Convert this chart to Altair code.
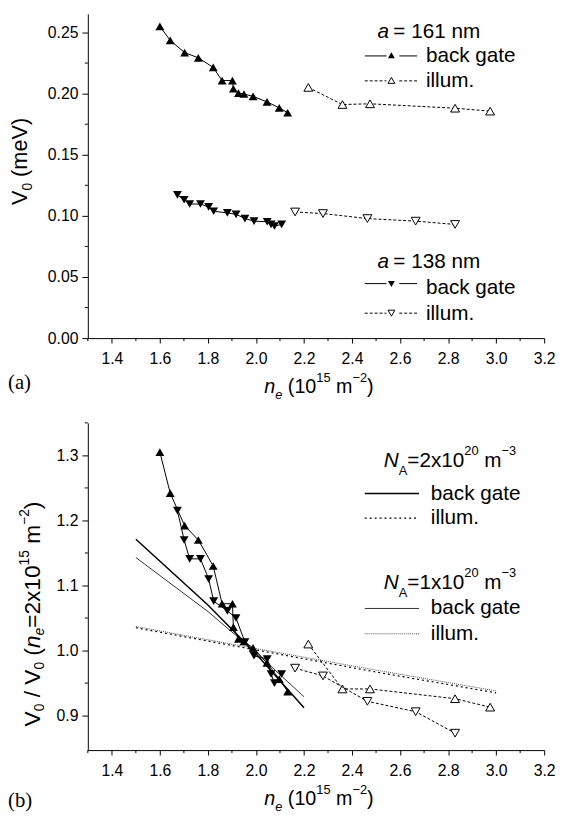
import altair as alt
import pandas as pd

# ---------------- data: panel (a) ----------------
a161_bg_ne = [1.60, 1.643, 1.703, 1.760, 1.822, 1.859, 1.902, 1.906, 1.927, 1.950, 1.988, 2.046, 2.097, 2.132]
a161_bg_v0 = [0.2551, 0.2436, 0.2336, 0.2293, 0.2215, 0.2107, 0.2107, 0.2040, 0.2005, 0.1997, 0.1978, 0.1933, 0.1884, 0.1844]
a161_il_ne = [2.218, 2.360, 2.475, 2.829, 2.975]
a161_il_v0 = [0.2051, 0.1911, 0.1917, 0.1881, 0.1857]
a138_bg_ne = [1.673, 1.701, 1.724, 1.769, 1.803, 1.824, 1.881, 1.917, 1.954, 1.992, 2.047, 2.063, 2.077, 2.107]
a138_bg_v0 = [0.1172, 0.1132, 0.1097, 0.1097, 0.1073, 0.1038, 0.1024, 0.1013, 0.0978, 0.0957, 0.0952, 0.0930, 0.0917, 0.0930]
a138_il_ne = [2.163, 2.279, 2.464, 2.665, 2.829]
a138_il_v0 = [0.1032, 0.1019, 0.0978, 0.0957, 0.0930]

# ---------------- data: panel (b) ----------------
b161_bg_r = [1.305, 1.242, 1.192, 1.170, 1.130, 1.072, 1.072, 1.036, 1.018, 1.014, 1.004, 0.981, 0.956, 0.937]
b161_il_r = [1.010, 0.941, 0.941, 0.926, 0.913]
b138_bg_r = [1.215, 1.170, 1.141, 1.141, 1.110, 1.076, 1.061, 1.050, 1.013, 0.992, 0.987, 0.964, 0.950, 0.964]
b138_il_r = [0.973, 0.961, 0.922, 0.906, 0.873]

# model curves
na2_bg_ne = [1.5, 1.8, 2.0, 2.2]
na2_bg_r = [1.171, 1.070, 0.995, 0.912]
na1_bg_ne = [1.5, 1.8, 2.0, 2.2]
na1_bg_r = [1.143, 1.060, 0.997, 0.929]
na2_il_ne = [1.5, 2.0, 2.5, 3.0]
na2_il_r = [1.035, 1.001, 0.967, 0.935]
na1_il_ne = [1.5, 2.0, 2.5, 3.0]
na1_il_r = [1.037, 1.003, 0.970, 0.938]

# axes
X_DOMAIN = [1.3, 3.2]
X_MAJOR = [1.4, 1.6, 1.8, 2.0, 2.2, 2.4, 2.6, 2.8, 3.0, 3.2]
X_MINOR = [1.3, 1.5, 1.7, 1.9, 2.1, 2.3, 2.5, 2.7, 2.9, 3.1]
TOP_Y_DOMAIN = [0.0, 0.2653]
TOP_Y_MAJOR = [0.0, 0.05, 0.10, 0.15, 0.20, 0.25]
TOP_Y_MINOR = [0.025, 0.075, 0.125, 0.175, 0.225]
BOT_Y_DOMAIN = [0.847, 1.35]
BOT_Y_MAJOR = [0.9, 1.0, 1.1, 1.2, 1.3]
BOT_Y_MINOR = [0.95, 1.05, 1.15, 1.25, 1.35]

FONT = "Liberation Sans"
SERIF = "Liberation Serif"
W = 463
H_TOP = 329
H_BOT = 332
ONE = pd.DataFrame({"k": [0]})

CW = {' ': 278, '(': 333, ')': 333, '.': 278, '/': 278, '=': 584, 'x': 500, 'm': 833,
      'n': 556, 'e': 556, 'V': 667, 'N': 722, 'A': 667, 'a': 556, '\u2212': 584}


def tw(s, size):
    return sum(CW.get(c, 556) for c in s) * size / 1000.0


def txt(s, x, y, size=21, italic=False, font=FONT, angle=0):
    return alt.Chart(ONE).mark_text(
        text=s, fontSize=size, fontStyle="italic" if italic else "normal", font=font,
        align="left", baseline="alphabetic", angle=angle, color="black"
    ).encode(x=alt.value(x), y=alt.value(y))


def rich(segs, x0, y0, vertical=False):
    out = []
    pos = 0.0
    for s, size, italic, shift in segs:
        lead = tw(" " * (len(s) - len(s.lstrip(" "))), size)
        st = s.strip(" ")
        p = pos + lead
        if vertical:
            out.append(txt(st, x0 - shift, y0 - p, size, italic, angle=270))
        else:
            out.append(txt(st, x0 + p, y0 - shift, size, italic))
        pos += tw(s, size)
    return out


def hline(x1, x2, y, dash=None, width=1.0, color="black"):
    kw = dict(strokeWidth=width, color=color)
    if dash:
        kw["strokeDash"] = dash
    return alt.Chart(ONE).mark_rule(**kw).encode(x=alt.value(x1), x2=alt.value(x2), y=alt.value(y))


def sym(x, y, shape, filled, size=49):
    if filled:
        m = alt.Chart(ONE).mark_point(shape=shape, size=size, filled=True, color="black", opacity=1)
    else:
        m = alt.Chart(ONE).mark_point(shape=shape, size=size, filled=True, fill="white",
                                      stroke="black", strokeWidth=1, opacity=1)
    return m.encode(x=alt.value(x), y=alt.value(y))


AX = dict(title=None, grid=False, labelFlush=False, labelOverlap=False, labelFont=FONT,
          labelFontSize=16, labelColor="black", domainColor="black", tickColor="black",
          domainWidth=1, tickWidth=1)


def frame(ydomain, ymajor, yfmt):
    xs = alt.Scale(domain=X_DOMAIN, nice=False, zero=False)
    ys = alt.Scale(domain=ydomain, nice=False, zero=False)
    xa = alt.Axis(values=X_MAJOR, format=".1f", tickSize=5, labelPadding=8, **AX)
    ya = alt.Axis(values=ymajor, format=yfmt, tickSize=6, labelPadding=4, **AX)
    return xs, ys, xa, ya


def series(ne, vals, xs, ys, xa, ya, shape, filled, dash=None):
    df = pd.DataFrame({"ne": ne, "v": vals, "i": list(range(len(ne)))})
    base = alt.Chart(df)
    lkw = dict(color="black", strokeWidth=1)
    if dash:
        lkw["strokeDash"] = dash
    line = base.mark_line(**lkw).encode(
        x=alt.X("ne:Q", scale=xs, axis=xa), y=alt.Y("v:Q", scale=ys, axis=ya), order="i:Q")
    if filled:
        pt = base.mark_point(shape=shape, size=81, filled=True, color="black", opacity=1)
    else:
        pt = base.mark_point(shape=shape, size=81, filled=True, fill="white", stroke="black",
                             strokeWidth=1, opacity=1)
    pt = pt.encode(x=alt.X("ne:Q", scale=xs, axis=xa), y=alt.Y("v:Q", scale=ys, axis=ya))
    return [line, pt]


def model(ne, vals, xs, ys, xa, ya, dash=None, width=1.0, color="black"):
    df = pd.DataFrame({"ne": ne, "v": vals})
    kw = dict(color=color, strokeWidth=width)
    if dash:
        kw["strokeDash"] = dash
    return alt.Chart(df).mark_line(**kw).encode(
        x=alt.X("ne:Q", scale=xs, axis=xa), y=alt.Y("v:Q", scale=ys, axis=ya))


def minor_ticks(xs, ys, xa, ya, yminor, h):
    xm = alt.Chart(pd.DataFrame({"v": X_MINOR})).mark_rule(color="black", strokeWidth=1).encode(
        x=alt.X("v:Q", scale=xs, axis=xa), y=alt.value(h), y2=alt.value(h + 3))
    ym = alt.Chart(pd.DataFrame({"v": yminor})).mark_rule(color="black", strokeWidth=1).encode(
        y=alt.Y("v:Q", scale=ys, axis=ya), x=alt.value(0), x2=alt.value(-3))
    return [xm, ym]


def xtitle(h):
    y0 = h + 56
    segs = [("n", 20, True, 0), ("e", 13, True, -6), (" (10", 20, False, 0), ("15", 13, False, 11),
            (" m", 20, False, 0), ("\u22122", 13, False, 11), (")", 20, False, 0)]
    return rich(segs, 268 - 89, y0)


# ---------------- panel (a) ----------------
xs, ys, xa, ya = frame(TOP_Y_DOMAIN, TOP_Y_MAJOR, ".2f")
layers = []
layers += series(a161_bg_ne, a161_bg_v0, xs, ys, xa, ya, "triangle-up", True)
layers += series(a161_il_ne, a161_il_v0, xs, ys, xa, ya, "triangle-up", False, [3, 2])
layers += series(a138_bg_ne, a138_bg_v0, xs, ys, xa, ya, "triangle-down", True)
layers += series(a138_il_ne, a138_il_v0, xs, ys, xa, ya, "triangle-down", False, [3, 2])
layers += minor_ticks(xs, ys, xa, ya, TOP_Y_MINOR, H_TOP)
# legend 161
layers += [txt("a", 294, 24.3, 21, True), txt("= 161 nm", 310, 24.3, 21)]
layers += [hline(281, 303, 42.7), hline(316, 334, 42.7), sym(308, 42, "triangle-up", True),
           txt("back gate", 343, 49.3, 21)]
layers += [hline(281, 303, 68, [3, 2]), hline(316, 334, 68, [3, 2]), sym(308, 67.5, "triangle-up", False),
           txt("illum.", 343, 74.3, 21)]
# legend 138
layers += [txt("a", 294, 257.7, 21, True), txt("= 138 nm", 310, 257.7, 21)]
layers += [hline(281, 303, 273.7), hline(316, 334, 273.7), sym(308, 274, "triangle-down", True),
           txt("back gate", 343, 284.7, 21)]
layers += [hline(281, 303, 303.7, [3, 2]), hline(316, 334, 303.7, [3, 2]),
           sym(308, 303.7, "triangle-down", False), txt("illum.", 343, 311, 21)]
# axis titles
layers += xtitle(H_TOP)
layers += rich([("V", 22, False, 0), ("0", 14, False, -5), (" (meV)", 22, False, 0)], -62, 194, vertical=True)
layers += [txt("(a)", -81, 381, 21, font=SERIF)]
top = alt.layer(*layers).properties(width=W, height=H_TOP)

# ---------------- panel (b) ----------------
xs, ys, xa, ya = frame(BOT_Y_DOMAIN, BOT_Y_MAJOR, ".1f")
layers = []
layers.append(model(na2_il_ne, na2_il_r, xs, ys, xa, ya, [2, 3], 1.2))
layers.append(model(na1_il_ne, na1_il_r, xs, ys, xa, ya, [1, 1], 1.0, "#555555"))
layers.append(model(na2_bg_ne, na2_bg_r, xs, ys, xa, ya, None, 1.5))
layers.append(model(na1_bg_ne, na1_bg_r, xs, ys, xa, ya, None, 1.0, "#333333"))
layers += series(a161_bg_ne, b161_bg_r, xs, ys, xa, ya, "triangle-up", True)
layers += series(a161_il_ne, b161_il_r, xs, ys, xa, ya, "triangle-up", False, [3, 2])
layers += series(a138_bg_ne, b138_bg_r, xs, ys, xa, ya, "triangle-down", True)
layers += series(a138_il_ne, b138_il_r, xs, ys, xa, ya, "triangle-down", False, [3, 2])
layers += minor_ticks(xs, ys, xa, ya, BOT_Y_MINOR, H_BOT)


def na_title(num, y0):
    segs = [("N", 21, True, 0), ("A", 13, False, -8), ("=%sx10" % num, 21, False, 0), ("20", 13, False, 12),
            (" m", 21, False, 0), ("\u22123", 13, False, 12)]
    return rich(segs, 300.3, y0)


layers += na_title("2", 45)
layers += [hline(281, 336, 71.7, None, 1.5), txt("back gate", 348, 78, 21)]
layers += [hline(281, 336, 96.7, [2, 3], 1.2), txt("illum.", 348, 103, 21)]
layers += na_title("1", 168.3)
layers += [hline(281, 336, 188.3, None, 1.0, "#333333"), txt("back gate", 348, 194, 21)]
layers += [hline(281, 336, 214, [1, 1], 1.0, "#555555"), txt("illum.", 348, 220, 21)]
layers += xtitle(H_BOT)
ysegs = [("V", 23, False, 0), ("0", 14, False, -5), (" / ", 23, False, 0), ("V", 23, False, 0),
         ("0", 14, False, -5), (" (", 23, False, 0), ("n", 23, True, 0), ("e", 14, True, -5),
         ("=2x10", 23, False, 0), ("15", 14, False, 11), (" m", 23, False, 0), ("\u22122", 14, False, 11),
         (")", 23, False, 0)]
layers += rich(ysegs, -49, 308, vertical=True)
layers += [txt("(b)", -81, 390, 21, font=SERIF)]
bottom = alt.layer(*layers).properties(width=W, height=H_BOT)

chart = alt.vconcat(top, bottom, spacing=20).properties(
    padding={"left": 0, "top": 0, "right": 0, "bottom": 0}
).configure_view(stroke=None)

chart.save("out.html", embed_options={"renderer": "svg", "actions": False})
